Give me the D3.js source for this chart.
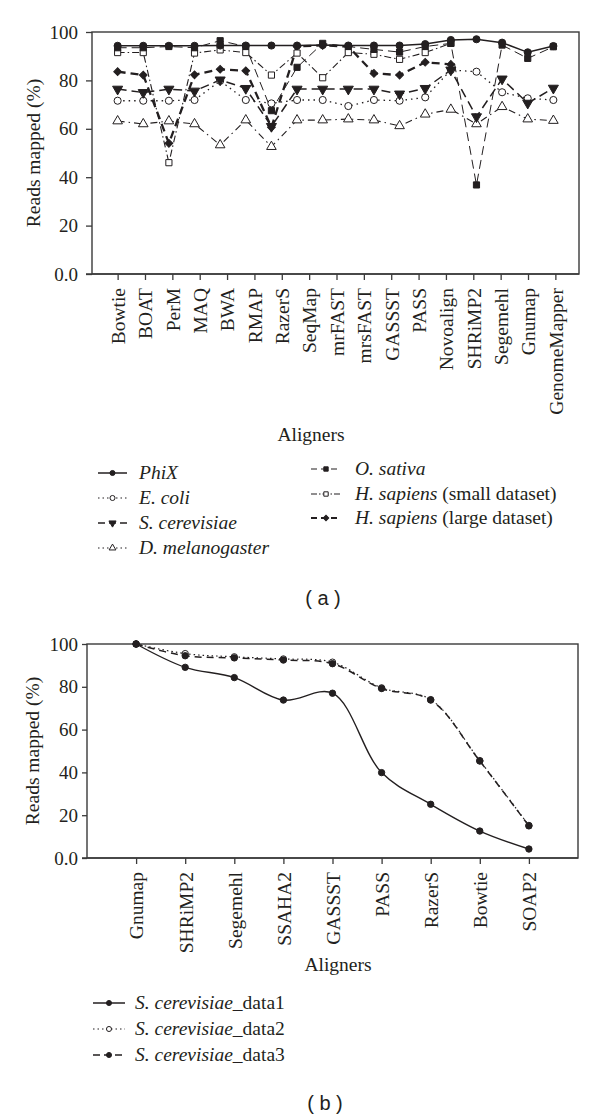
<!DOCTYPE html>
<html>
<head>
<meta charset="utf-8">
<script src="https://cdn.jsdelivr.net/npm/d3@7"></script>
<style>
  html, body { margin: 0; padding: 0; background: #fff; }
  svg { display: block; }
</style>
</head>
<body>
<svg id="chart" width="600" height="1118"></svg>
<script>
// ---------- Panel (a) data ----------
const aligners = ["Bowtie","BOAT","PerM","MAQ","BWA","RMAP","RazerS","SeqMap","mrFAST","mrsFAST","GASSST","PASS","Novoalign","SHRiMP2","Segemehl","Gnumap","GenomeMapper"];
// values read at the 18 plotted positions of panel (a)
const phiX      = [94.3,94.3,94.3,94.3,94.4,94.4,94.4,94.4,94.6,94.4,94.4,94.4,95.0,96.7,97.0,95.6,91.6,94.2];
const eColi     = [71.6,71.6,71.6,71.9,79.8,71.9,70.5,71.9,71.9,69.4,71.9,71.6,73.0,84.3,83.6,75.1,72.6,71.9];
const sCerevisiae = [76.4,75.0,76.4,75.6,80.2,76.7,61.0,76.4,76.4,76.4,76.4,74.4,76.7,84.3,65.0,80.6,70.6,76.8];
const dMelanogaster = [63.2,62.0,63.2,62.0,53.3,63.6,52.6,63.6,63.6,64.0,63.6,61.2,66.0,68.0,62.0,69.1,64.0,63.4];
const oSativa   = [93.5,93.5,94.0,93.5,96.4,94.0,67.5,85.4,95.3,94.0,92.8,91.7,94.0,95.3,36.8,94.6,89.1,93.9];
const hSapiensSmall = [91.5,91.5,46.0,91.3,92.6,91.5,82.2,91.3,81.1,91.5,90.8,88.7,91.5,95.3,null,null,null,null];
const hSapiensLarge = [83.6,82.2,54.0,82.3,84.6,84.0,60.6,94.0,94.5,94.0,82.9,82.2,87.5,86.6,null,null,null,null];
const yTicksA = [0,20,40,60,80,100];

// ---------- Panel (b) data ----------
const alignersB = ["Gnumap","SHRiMP2","Segemehl","SSAHA2","GASSST","PASS","RazerS","Bowtie","SOAP2"];
const data1 = [100, 89.1, 84.3, 73.8, 77.0, 39.9, 25.1, 12.6, 4.2];
const data2 = [100, 95.5, 94.0, 93.0, 91.5, 79.5, 74.0, 45.5, 15.2];
const data3 = [100, 94.5, 93.5, 92.5, 90.8, 79.2, 73.8, 45.3, 15.0];
const yTicksB = [0,20,40,60,80,100];

const INK = "#231f20";
const SERIF = "'Liberation Serif', 'DejaVu Serif', serif";
const svg = d3.select("#chart");
svg.append("rect").attr("width",600).attr("height",1118).attr("fill","#fff");

const fmt = d => d === 0 ? "0.0" : String(d);

function marker(g, type, x, y, s) {
  const sz = s || 1;
  let path, fill = INK, rot = 0;
  switch (type) {
    case "dot":    path = d3.symbol(d3.symbolCircle, 40*sz)(); break;
    case "ring":   path = d3.symbol(d3.symbolCircle, 40*sz)(); fill = "#fff"; break;
    case "sq":     path = d3.symbol(d3.symbolSquare, 38*sz)(); break;
    case "osq":    path = d3.symbol(d3.symbolSquare, 38*sz)(); fill = "#fff"; break;
    case "tri":    path = d3.symbol(d3.symbolTriangle, 40*sz)(); fill = "#fff"; break;
    case "dtri":   path = d3.symbol(d3.symbolTriangle, 44*sz)(); rot = 180; break;
    case "dia":    path = d3.symbol(d3.symbolSquare, 30*sz)(); rot = 45; break;
  }
  g.append("path").attr("d", path)
    .attr("transform", `translate(${x},${y}) rotate(${rot})`)
    .attr("fill", fill).attr("stroke", INK).attr("stroke-width", 1);
}

// ================= Panel (a) =================
const A = {l:92, r:579, t:32, b:274};
const yA = d3.scaleLinear().domain([0,100]).range([A.b, A.t]);
const xPosA = d3.scalePoint().domain(d3.range(phiX.length)).range([A.l, A.r]).padding(1);
const xLabA = d3.scalePoint().domain(aligners).range([xPosA(0), xPosA(phiX.length-1) + 2]);

const gA = svg.append("g");
gA.append("rect").attr("x",A.l).attr("y",A.t).attr("width",A.r-A.l).attr("height",A.b-A.t)
  .attr("fill","none").attr("stroke","#3a3a3a").attr("stroke-width",1.4);

const yAxA = gA.append("g").attr("transform",`translate(${A.l},0)`)
  .call(d3.axisLeft(yA).tickValues(yTicksA).tickFormat(fmt).tickSize(6).tickPadding(8));
yAxA.select(".domain").remove();
yAxA.selectAll("line").attr("stroke","#3a3a3a").attr("stroke-width",1.3);
yAxA.selectAll("text").attr("font-size",19);

gA.append("line").attr("x1",A.l-6).attr("x2",A.r).attr("y1",A.b).attr("y2",A.b)
  .attr("stroke","#3a3a3a").attr("stroke-width",1.4);
const xAxA = gA.append("g").attr("transform",`translate(0,${A.b})`)
  .call(d3.axisBottom(xLabA).tickSize(6));
xAxA.select(".domain").remove();
xAxA.selectAll("line").attr("stroke","#3a3a3a").attr("stroke-width",1.3);
xAxA.selectAll("text").attr("y",0).attr("x",-14).attr("dy","0.35em")
  .attr("transform","rotate(-90)").attr("text-anchor","end").attr("font-size",19.5);

gA.append("text").attr("transform","translate(33,153) rotate(-90)")
  .attr("text-anchor","middle").attr("dy","0.35em").attr("font-size",19.5).text("Reads mapped (%)");
gA.append("text").attr("x",311).attr("y",441).attr("text-anchor","middle").attr("font-size",19.5).text("Aligners");

const seriesA = [
  {name:"D. melanogaster", vals:dMelanogaster, dash:"7,4,1.5,4", w:1.1, m:"tri"},
  {name:"E. coli", vals:eColi, dash:"1.5,4", w:1.3, m:"ring"},
  {name:"S. cerevisiae", vals:sCerevisiae, dash:"9,5", w:1.5, m:"dtri"},
  {name:"H. sapiens large", vals:hSapiensLarge, dash:"8,5", w:2.3, m:"dia"},
  {name:"H. sapiens small", vals:hSapiensSmall, dash:"7,3,1.5,3", w:1.1, m:"osq"},
  {name:"O. sativa", vals:oSativa, dash:"9,5", w:1.0, m:"sq"},
  {name:"PhiX", vals:phiX, dash:null, w:1.5, m:"dot"}
];
const lineA = d3.line().defined(d => d != null).x((d,i) => xPosA(i)).y(d => yA(d));
seriesA.forEach(s => {
  gA.append("path").datum(s.vals).attr("d", lineA).attr("fill","none")
    .attr("stroke",INK).attr("stroke-width",s.w).attr("stroke-dasharray",s.dash);
});
seriesA.forEach(s => {
  const gm = gA.append("g");
  s.vals.forEach((v,i) => { if (v != null) marker(gm, s.m, xPosA(i), yA(v)); });
});

// legend
function legendItem(g, x1, x2, y, dash, w, m, parts, tx) {
  g.append("line").attr("x1",x1).attr("x2",x2).attr("y1",y).attr("y2",y)
    .attr("stroke",INK).attr("stroke-width",w).attr("stroke-dasharray",dash);
  marker(g, m, (x1+x2)/2, y, 0.5);
  const t = g.append("text").attr("x",tx).attr("y",y+6).attr("font-size",19.5);
  parts.forEach(p => t.append("tspan").attr("font-style", p[1] ? "italic" : "normal").text(p[0]));
}
const legA = svg.append("g");
legendItem(legA, 98, 127, 473, null, 1.5, "dot", [["PhiX",1]], 139);
legendItem(legA, 98, 127, 498, "1.5,3", 1.2, "ring", [["E. coli",1]], 139);
legendItem(legA, 98, 127, 523, "7,4", 1.5, "dtri", [["S. cerevisiae",1]], 139);
legendItem(legA, 98, 127, 548, "1.5,3", 1.1, "tri", [["D. melanogaster",1]], 139);
legendItem(legA, 311, 341, 469, "6,4", 1.1, "sq", [["O. sativa",1]], 355);
legendItem(legA, 311, 341, 494, "6,2,1.5,2", 1.1, "osq", [["H. sapiens",1],[" (small dataset)",0]], 355);
legendItem(legA, 311, 341, 518, "6,4", 2.2, "dia", [["H. sapiens",1],[" (large dataset)",0]], 355);

// ================= Panel (b) =================
const B = {l:87, r:578, t:644, b:858};
const yB = d3.scaleLinear().domain([0,100]).range([B.b, B.t]);
const xB = d3.scalePoint().domain(alignersB).range([B.l, B.r]).padding(1);

const gB = svg.append("g");
gB.append("rect").attr("x",B.l).attr("y",B.t).attr("width",B.r-B.l).attr("height",B.b-B.t)
  .attr("fill","none").attr("stroke","#3a3a3a").attr("stroke-width",1.4);
const yAxB = gB.append("g").attr("transform",`translate(${B.l},0)`)
  .call(d3.axisLeft(yB).tickValues(yTicksB).tickFormat(fmt).tickSize(5).tickPadding(4));
yAxB.select(".domain").remove();
yAxB.selectAll("line").attr("stroke","#3a3a3a").attr("stroke-width",1.3);
yAxB.selectAll("text").attr("font-size",19);

gB.append("line").attr("x1",B.l-5).attr("x2",B.r).attr("y1",B.b).attr("y2",B.b)
  .attr("stroke","#3a3a3a").attr("stroke-width",1.4);
const xAxB = gB.append("g").attr("transform",`translate(0,${B.b})`)
  .call(d3.axisBottom(xB).tickSize(6));
xAxB.select(".domain").remove();
xAxB.selectAll("line").attr("stroke","#3a3a3a").attr("stroke-width",1.3);
xAxB.selectAll("text").attr("y",0).attr("x",-14).attr("dy","0.35em")
  .attr("transform","rotate(-90)").attr("text-anchor","end").attr("font-size",19.5);

gB.append("text").attr("transform","translate(32,751) rotate(-90)")
  .attr("text-anchor","middle").attr("dy","0.35em").attr("font-size",19.5).text("Reads mapped (%)");
gB.append("text").attr("x",338).attr("y",971).attr("text-anchor","middle").attr("font-size",19.5).text("Aligners");

const seriesB = [
  {vals:data2, dash:"1.5,3", w:1.2, m:"ring"},
  {vals:data3, dash:"7,5", w:1.5, m:"dot"},
  {vals:data1, dash:null, w:1.4, m:"dot"}
];
const lineB = d3.line().x((d,i) => xB(alignersB[i])).y(d => yB(d)).curve(d3.curveCatmullRom.alpha(0.5));
seriesB.forEach(s => {
  gB.append("path").datum(s.vals).attr("d", lineB).attr("fill","none")
    .attr("stroke",INK).attr("stroke-width",s.w).attr("stroke-dasharray",s.dash);
});
seriesB.forEach(s => {
  const gm = gB.append("g");
  s.vals.forEach((v,i) => marker(gm, s.m, xB(alignersB[i]), yB(v), 0.8));
});

const legB = svg.append("g");
legendItem(legB, 93, 125, 1003, null, 1.5, "dot", [["S. cerevisiae",1],["_data1",0]], 135);
legendItem(legB, 93, 125, 1029, "1.5,3", 1.2, "ring", [["S. cerevisiae",1],["_data2",0]], 135);
legendItem(legB, 93, 125, 1055, "7,4", 1.5, "dot", [["S. cerevisiae",1],["_data3",0]], 135);

// force serif font on all chart text, then add the sans panel tags
svg.selectAll("g").attr("font-family", SERIF);
svg.selectAll("text").attr("font-family", SERIF).attr("fill", INK);

svg.append("text").attr("x",323).attr("y",605).attr("text-anchor","middle")
  .attr("font-family","'Liberation Sans', Arial, sans-serif").attr("font-size",20).attr("fill",INK).text("( a )");
svg.append("text").attr("x",325).attr("y",1110).attr("text-anchor","middle")
  .attr("font-family","'Liberation Sans', Arial, sans-serif").attr("font-size",20).attr("fill",INK).text("( b )");
</script>
</body>
</html>
